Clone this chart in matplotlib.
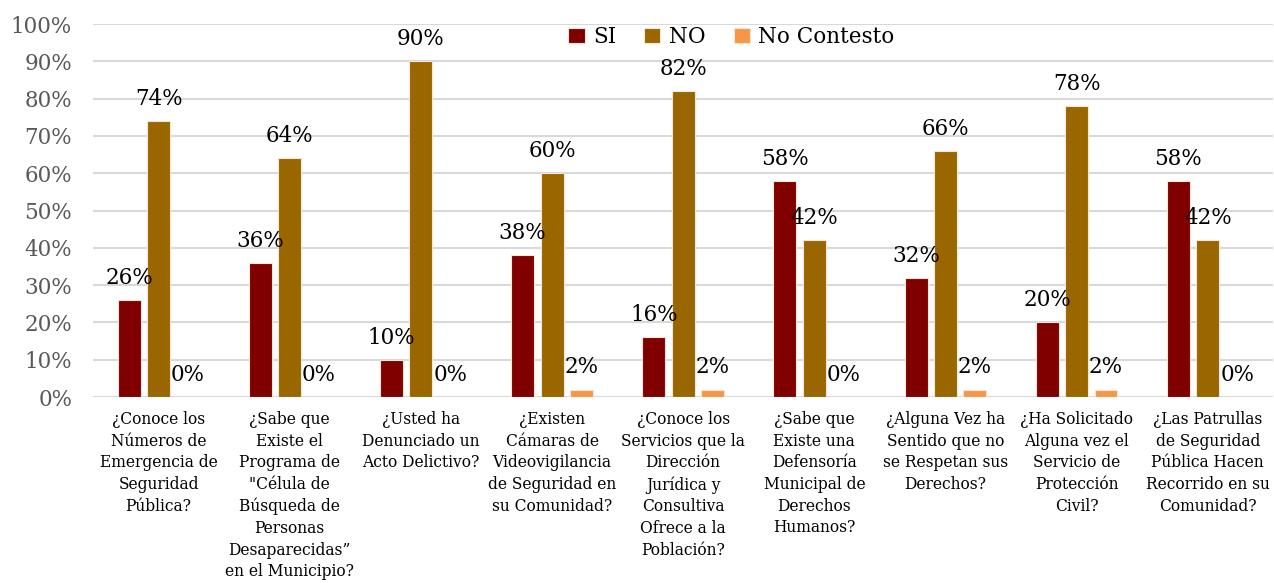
import matplotlib
matplotlib.use("Agg")
import matplotlib.pyplot as plt
import numpy as np

categories = [
    "¿Conoce los\nNúmeros de\nEmergencia de\nSeguridad\nPública?",
    "¿Sabe que\nExiste el\nPrograma de\n\"Célula de\nBúsqueda de\nPersonas\nDesaparecidas”\nen el Municipio?",
    "¿Usted ha\nDenunciado un\nActo Delictivo?",
    "¿Existen\nCámaras de\nVideovigilancia\nde Seguridad en\nsu Comunidad?",
    "¿Conoce los\nServicios que la\nDirección\nJurídica y\nConsultiva\nOfrece a la\nPoblación?",
    "¿Sabe que\nExiste una\nDefensoría\nMunicipal de\nDerechos\nHumanos?",
    "¿Alguna Vez ha\nSentido que no\nse Respetan sus\nDerechos?",
    "¿Ha Solicitado\nAlguna vez el\nServicio de\nProtección\nCivil?",
    "¿Las Patrullas\nde Seguridad\nPública Hacen\nRecorrido en su\nComunidad?",
]
series_names = ["SI", "NO", "No Contesto"]
si = [26, 36, 10, 38, 16, 58, 32, 20, 58]
no = [74, 64, 90, 60, 82, 42, 66, 78, 42]
no_contesto = [0, 0, 0, 2, 2, 0, 2, 2, 0]
yticks = [0, 10, 20, 30, 40, 50, 60, 70, 80, 90, 100]

colors = ["#800000", "#996600", "#F79646"]
font = "DejaVu Serif"
plt.rcParams['font.family'] = [font]

fig = plt.figure(figsize=(12.74, 5.83), dpi=100)
ax = fig.add_axes([0.073, 0.319, 0.9265, 0.6398])

x = np.arange(len(categories))
width = 0.175
step = 0.224
for i, (vals, name, c) in enumerate(zip([si, no, no_contesto], series_names, colors)):
    pos = x + (i - 1) * step
    bars = ax.bar(pos, vals, width, color=c, label=name, edgecolor="#F2E6D9", linewidth=0.8, zorder=3)
    for b, v in zip(bars, vals):
        ax.annotate(f"{v}%", (b.get_x() + b.get_width() / 2, v), xytext=(0, 8),
                    textcoords="offset points", ha="center", va="bottom",
                    fontsize=15.5, color="black", zorder=5)

ax.set_xlim(-0.5, len(categories) - 0.5)
ax.set_ylim(0, 100)
ax.set_yticks(yticks)
ax.set_yticklabels([f"{t}%" for t in yticks], fontsize=15.5, color="#595959")
ax.set_xticks(x)
ax.set_xticklabels(categories, fontsize=11.2, color="black", linespacing=1.36)
ax.tick_params(axis="both", length=0)
ax.tick_params(axis="x", pad=10)
ax.tick_params(axis="y", pad=15)
for s in ax.spines.values():
    s.set_visible(False)
ax.yaxis.grid(True, color="#D9D9D9", linewidth=1.5, zorder=0)
ax.set_axisbelow(True)

leg = ax.legend(loc="center", bbox_to_anchor=(0.541, 0.965), ncol=3, frameon=False,
                fontsize=15.5, handlelength=0.75, handleheight=0.75, handletextpad=0.4,
                columnspacing=1.3, borderpad=0)

fig.savefig("out.png", dpi=100)
